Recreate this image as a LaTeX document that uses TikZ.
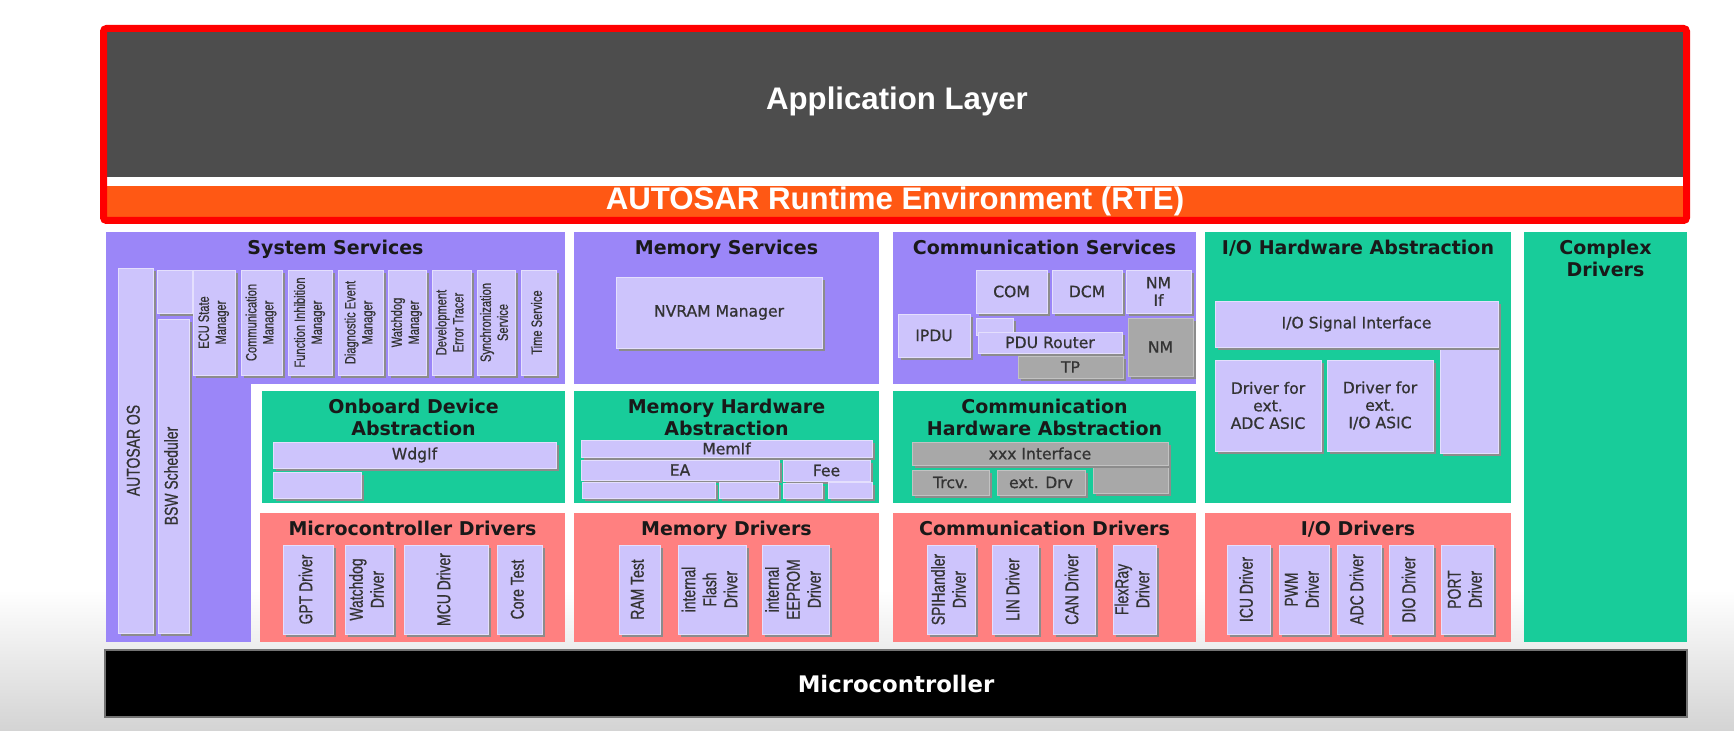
\documentclass[tikz,border=0pt]{standalone}
\usepackage{fontspec}
\setmainfont{Liberation Sans}
\newfontfamily\dejavu{DejaVu Sans}
\newfontfamily\dejavumod{DejaVu Sans}[FakeBold=0.8]
\newfontfamily\narrowlab{Liberation Sans}[FakeBold=0.8]
\usetikzlibrary{shadows,positioning}

\definecolor{appgray}{RGB}{77,77,77}
\definecolor{rteorange}{RGB}{255,88,20}
\definecolor{svcpurple}{RGB}{155,134,248}
\definecolor{hwgreen}{RGB}{24,204,154}
\definecolor{drvpink}{RGB}{255,128,128}
\definecolor{modlav}{RGB}{205,196,252}
\definecolor{modgray}{RGB}{168,168,168}

\tikzset{
	% layer backgrounds and their titles
	layerbox/.style={inner sep=0, outer sep=0},
	services/.style={layerbox, fill=svcpurple},
	hwabs/.style={layerbox, fill=hwgreen},
	drivers/.style={layerbox, fill=drvpink},
	laytitle/.style={inner sep=0, align=center, text=black!90, font=\fontsize{9.5}{10.75}\selectfont\dejavu\bfseries},
	% module boxes: lavender and gray
	modbox/.style={inner sep=0, fill=modlav, draw=modlav!55!white, line width=0.3pt, align=center, text=black!80,
		drop shadow={shadow xshift=1.3pt, shadow yshift=-1.3pt, fill=black!45, opacity=1},
		font=\fontsize{7.8}{8.75}\selectfont\dejavumod},
	graybox/.style={modbox, fill=modgray, draw=modgray!70!white},
	bigtext/.style={text=white, font=\fontsize{15.6}{18}\selectfont\bfseries}
}

% #1 style, #2 name, #3--#6 corners in px, #7 text
\newcommand{\blk}[7]{%
	\node[#1, minimum width={(#5-#3)*0.5pt}, minimum height={(#6-#4)*0.5pt}] (#2) at ({(#3+#5)/2},{(#4+#6)/2}) {#7};}
% narrow rotated labels
\newcommand{\vlab}[1]{\rotatebox{90}{\scalebox{0.75}[1]{\narrowlab\fontsize{9.3}{10.5}\selectfont\begin{tabular}{@{}c@{}}#1\end{tabular}}}}
\newcommand{\vsmall}[1]{\rotatebox{90}{\scalebox{0.74}[1]{\narrowlab\fontsize{7.5}{8.5}\selectfont\begin{tabular}{@{}c@{}}#1\end{tabular}}}}

\begin{document}
\begin{tikzpicture}[x=0.5pt, y=-0.5pt]
\useasboundingbox (0,0) rectangle (1734,731);
\shade[top color=white, bottom color=black!17] (0,590) rectangle (1734,731);

% application layer and RTE
\blk{fill=appgray, inner sep=0}{app}{106}{31}{1684}{177}{}
\node[bigtext] (applbl) at (897,101) {Application Layer};
\blk{fill=rteorange, inner sep=0, bigtext}{rte}{106}{186}{1684}{217}{AUTOSAR Runtime Environment (RTE)}
\draw[red, line width=3.5pt, rounded corners=1.5pt] (103.5,28.5) rectangle (1686.5,220.5);

% layers
\blk{services}{syssvc}{106}{232}{565}{384}{}
\blk{services}{syscol}{106}{383}{251}{642}{}
\blk{hwabs}{onboard}{262}{391}{565}{503}{}
\blk{drivers}{mcudrv}{260}{513}{565}{642}{}
\blk{services}{memsvc}{574}{232}{879}{384}{}
\blk{hwabs}{memhw}{574}{391}{879}{503}{}
\blk{drivers}{memdrv}{574}{513}{879}{642}{}
\blk{services}{comsvc}{893}{232}{1196}{384}{}
\blk{hwabs}{comhw}{893}{391}{1196}{503}{}
\blk{drivers}{comdrv}{893}{513}{1196}{642}{}
\blk{hwabs}{iohw}{1205}{232}{1511}{503}{}
\blk{drivers}{iodrv}{1205}{513}{1511}{642}{}
\blk{hwabs}{cdd}{1524}{232}{1687}{642}{}

\node[laytitle, below=4pt of syssvc.north] (syssvct) {System Services};
\node[laytitle, below=4pt of onboard.north] (onboardt) {Onboard Device\\Abstraction};
\node[laytitle, below=4pt of mcudrv.north] (mcudrvt) {Microcontroller Drivers};
\node[laytitle, below=4pt of memsvc.north] (memsvct) {Memory Services};
\node[laytitle, below=4pt of memhw.north] (memhwt) {Memory Hardware\\Abstraction};
\node[laytitle, below=4pt of memdrv.north] (memdrvt) {Memory Drivers};
\node[laytitle, below=4pt of comsvc.north] (comsvct) {Communication Services};
\node[laytitle, below=4pt of comhw.north] (comhwt) {Communication\\Hardware Abstraction};
\node[laytitle, below=4pt of comdrv.north] (comdrvt) {Communication Drivers};
\node[laytitle, below=4pt of iohw.north] (iohwt) {I/O Hardware Abstraction};
\node[laytitle, below=4pt of iodrv.north] (iodrvt) {I/O Drivers};
\node[laytitle, below=4pt of cdd.north] (cddt) {Complex\\Drivers};

% system services
\blk{modbox}{os}{118}{268}{153}{633}{\vlab{AUTOSAR OS}}
\blk{modbox}{bswtop}{157}{270}{192}{313}{}
\blk{modbox}{bsw}{158}{319}{189}{633}{\vlab{BSW Scheduler}}
\blk{modbox}{ecum}{193}{270}{235}{375}{\vsmall{ECU State\\Manager}}
\blk{modbox}{comm}{241}{270}{282}{375}{\vsmall{Communication\\Manager}}
\blk{modbox}{fim}{288}{270}{332}{375}{\vsmall{Function Inhibition\\Manager}}
\blk{modbox}{dem}{338}{270}{383}{375}{\vsmall{Diagnostic Event\\Manager}}
\blk{modbox}{wdgm}{388}{270}{426}{375}{\vsmall{Watchdog\\Manager}}
\blk{modbox}{det}{432}{270}{471}{375}{\vsmall{Development\\Error Tracer}}
\blk{modbox}{sync}{477}{270}{515}{375}{\vsmall{Synchronization\\Service}}
\blk{modbox}{tsvc}{521}{270}{556}{375}{\vsmall{Time Service}}

% onboard device abstraction
\blk{modbox}{wdgif}{273}{442}{556}{468}{WdgIf}
\blk{modbox}{obspare}{273}{472}{361}{498}{}

% microcontroller drivers
\blk{modbox}{gpt}{283}{545}{333}{634}{\vlab{GPT Driver}}
\blk{modbox}{wdgdrv}{345}{545}{393}{634}{\vlab{Watchdog\\Driver}}
\blk{modbox}{mcu}{404}{545}{488}{634}{\vlab{MCU Driver}}
\blk{modbox}{coretst}{497}{545}{542}{634}{\vlab{Core Test}}

% memory stack
\blk{modbox}{nvram}{616}{277}{822}{348}{NVRAM Manager}
\blk{modbox}{memif}{581}{440}{872}{457}{MemIf}
\blk{modbox}{ea}{581}{460}{779}{480}{EA}
\blk{modbox}{fee}{783}{460}{870}{481}{Fee}
\blk{modbox}{easpa}{582}{482}{715}{498}{}
\blk{modbox}{easpb}{719}{482}{778}{498}{}
\blk{modbox}{feespa}{783}{483}{822}{498}{}
\blk{modbox}{feespb}{828}{482}{872}{498}{}
\blk{modbox}{ramtst}{619}{545}{660}{634}{\vlab{RAM Test}}
\blk{modbox}{flsdrv}{678}{545}{746}{634}{\vlab{internal\\Flash\\Driver}}
\blk{modbox}{eepdrv}{762}{545}{829}{634}{\vlab{internal\\EEPROM\\Driver}}

% communication stack
\blk{modbox}{com}{976}{270}{1047}{313}{COM}
\blk{modbox}{dcm}{1052}{270}{1122}{313}{DCM}
\blk{modbox}{nmif}{1126}{270}{1191}{313}{NM\\If}
\blk{modbox}{ipdu}{898}{314}{970}{357}{IPDU}
\blk{modbox}{pdusp}{976}{318}{1013}{335}{}
\blk{modbox}{pdur}{978}{332}{1122}{353}{PDU Router}
\blk{graybox}{tp}{1018}{356}{1123}{378}{TP}
\blk{graybox}{nm}{1128}{318}{1193}{376}{NM}
\blk{graybox}{comhwsp}{1093}{463}{1168}{493}{}
\blk{graybox}{xxxif}{912}{442}{1168}{465}{xxx Interface}
\blk{graybox}{trcv}{912}{470}{989}{495}{Trcv.}
\blk{graybox}{extdrv}{997}{470}{1085}{495}{ext. Drv}
\blk{modbox}{spi}{927}{545}{975}{634}{\vlab{SPIHandler\\Driver}}
\blk{modbox}{lin}{992}{545}{1038}{634}{\vlab{LIN Driver}}
\blk{modbox}{can}{1053}{545}{1095}{634}{\vlab{CAN Driver}}
\blk{modbox}{fr}{1113}{545}{1156}{634}{\vlab{FlexRay\\Driver}}

% I/O stack
\blk{modbox}{iosigtail}{1440}{345}{1498}{453}{}
\blk{modbox}{iosig}{1215}{301}{1498}{347}{I/O Signal Interface}
\blk{modbox}{adcasic}{1215}{360}{1321}{451}{Driver for\\ext.\\ADC ASIC}
\blk{modbox}{ioasic}{1327}{360}{1433}{451}{Driver for\\ext.\\I/O ASIC}
\blk{modbox}{icu}{1227}{545}{1270}{634}{\vlab{ICU Driver}}
\blk{modbox}{pwm}{1279}{545}{1329}{634}{\vlab{PWM\\Driver}}
\blk{modbox}{adc}{1337}{545}{1381}{634}{\vlab{ADC Driver}}
\blk{modbox}{dio}{1389}{545}{1433}{634}{\vlab{DIO Driver}}
\blk{modbox}{port}{1441}{545}{1493}{634}{\vlab{PORT\\Driver}}

% microcontroller
\blk{fill=black, draw=black!55, line width=0.6pt, inner sep=0, text=white, font=\fontsize{11.4}{13}\selectfont\dejavu\bfseries}{uc}{105}{650}{1687}{717}{Microcontroller}

\end{tikzpicture}
\end{document}
